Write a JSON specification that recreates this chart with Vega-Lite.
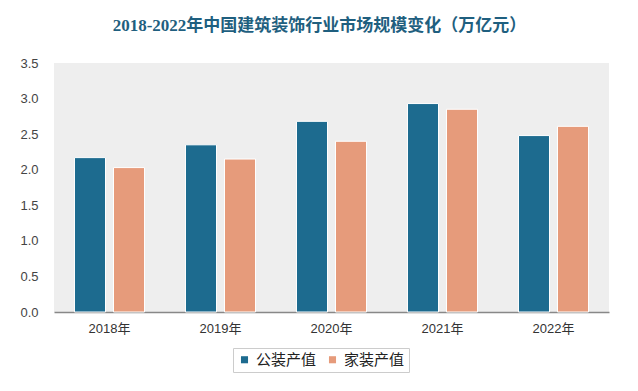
{
  "$schema": "https://vega.github.io/schema/vega-lite/v6.json",
  "width": 555,
  "height": 249,
  "autosize": {"type": "none"},
  "padding": {"left": 54, "top": 63, "right": 29, "bottom": 79},
  "background": "#ffffff",
  "config": {
    "view": {"fill": "#eeeeee", "stroke": null},
    "font": "Liberation Sans, Noto Sans CJK SC"
  },
  "title": {
    "text": "2018-2022年中国建筑装饰行业市场规模变化（万亿元）",
    "font": "Liberation Serif, Noto Sans CJK SC",
    "fontSize": 17,
    "fontWeight": "bold",
    "color": "#1f5f7f",
    "anchor": "middle",
    "offset": 22,
    "dx": -12
  },
  "data": {
    "values": [
      {"year": "2018年", "type": "公装产值", "value": 2.17},
      {"year": "2018年", "type": "家装产值", "value": 2.03},
      {"year": "2019年", "type": "公装产值", "value": 2.35},
      {"year": "2019年", "type": "家装产值", "value": 2.15},
      {"year": "2020年", "type": "公装产值", "value": 2.68},
      {"year": "2020年", "type": "家装产值", "value": 2.40},
      {"year": "2021年", "type": "公装产值", "value": 2.93},
      {"year": "2021年", "type": "家装产值", "value": 2.85},
      {"year": "2022年", "type": "公装产值", "value": 2.48},
      {"year": "2022年", "type": "家装产值", "value": 2.61}
    ]
  },
  "mark": {"type": "bar", "stroke": "#ffffff", "strokeWidth": 1},
  "encoding": {
    "x": {
      "field": "year",
      "type": "nominal",
      "sort": null,
      "scale": {"paddingInner": 0.369, "paddingOuter": 0.1845},
      "axis": {
        "title": null,
        "labelAngle": 0,
        "labelFontSize": 13,
        "labelColor": "#333333",
        "labelPadding": 10,
        "ticks": false,
        "domainColor": "#888888",
        "domainWidth": 1.5
      }
    },
    "xOffset": {
      "field": "type",
      "type": "nominal",
      "sort": ["公装产值", "家装产值"],
      "scale": {"paddingInner": 0.205, "paddingOuter": 0}
    },
    "y": {
      "field": "value",
      "type": "quantitative",
      "scale": {"domain": [0, 3.5], "nice": false},
      "axis": {
        "title": null,
        "values": [0, 0.5, 1, 1.5, 2, 2.5, 3, 3.5],
        "format": ".1f",
        "grid": false,
        "domain": false,
        "ticks": false,
        "labelFontSize": 13,
        "labelColor": "#444444",
        "labelPadding": 16
      }
    },
    "color": {
      "field": "type",
      "type": "nominal",
      "sort": ["公装产值", "家装产值"],
      "scale": {"domain": ["公装产值", "家装产值"], "range": ["#1d6b8f", "#e69b7b"]},
      "legend": {
        "title": null,
        "orient": "none",
        "legendX": 179,
        "legendY": 285,
        "direction": "horizontal",
        "symbolType": "square",
        "symbolSize": 50,
        "symbolStrokeWidth": 0,
        "labelFontSize": 15,
        "labelColor": "#222222",
        "labelFont": "Noto Sans CJK SC",
        "columnPadding": 8,
        "labelOffset": 4,
        "padding": 4,
        "strokeColor": "#cccccc",
        "fillColor": "#ffffff"
      }
    }
  }
}
